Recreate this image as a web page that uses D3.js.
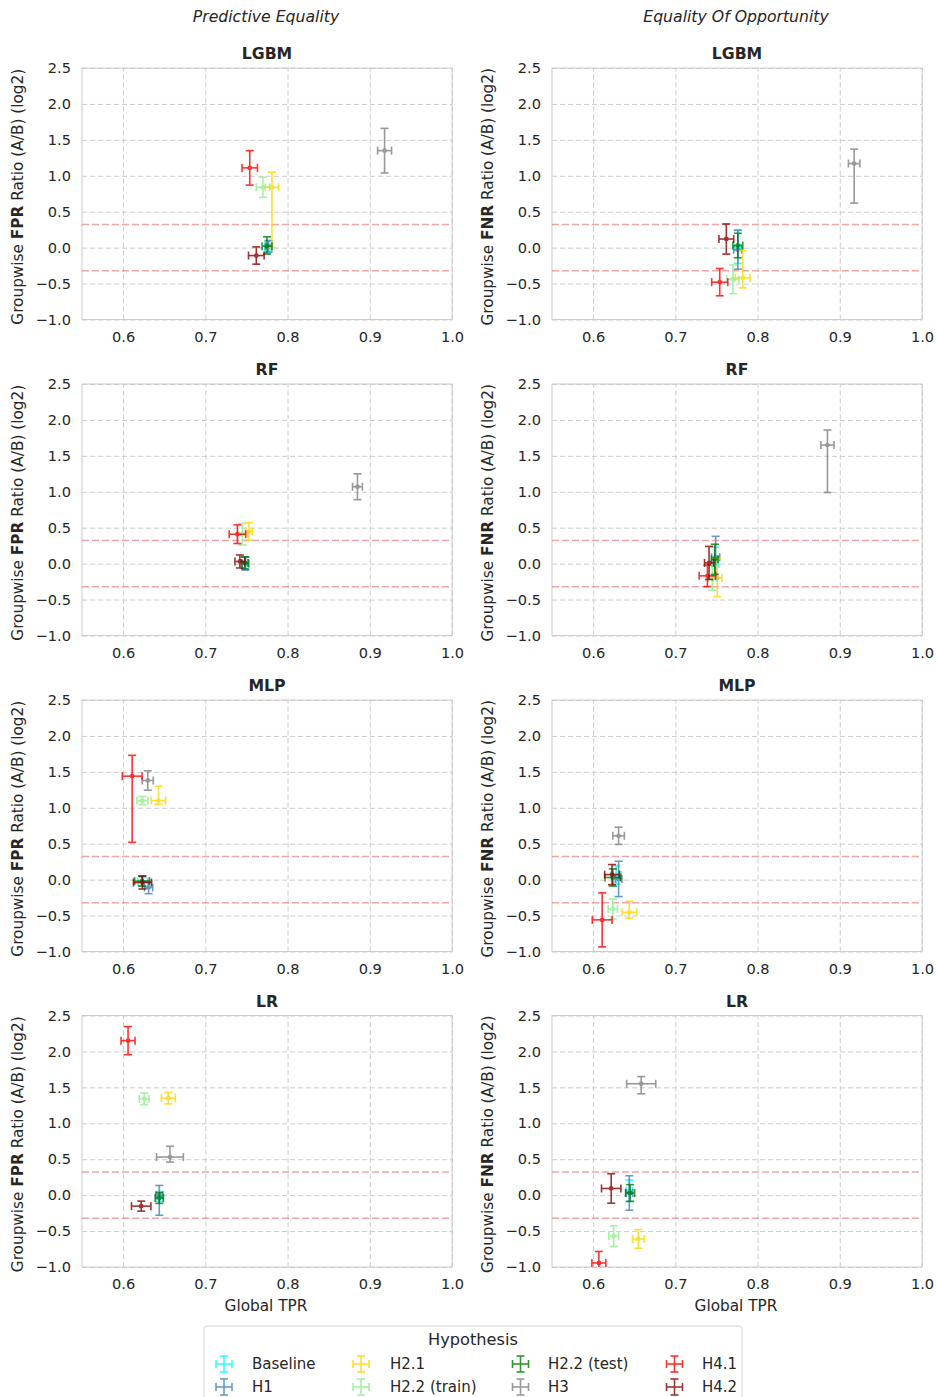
<!DOCTYPE html>
<html>
<head>
<meta charset="utf-8">
<script src="https://cdn.jsdelivr.net/npm/d3@7"></script>
<style>
  body { margin: 0; background: #fff; }
  text { font-family: "DejaVu Sans", sans-serif; fill: #262626; }
</style>
</head>
<body>
<svg id="chart"></svg>
<script>
const hypotheses = ["Baseline", "H1", "H2.1", "H2.2 (train)", "H2.2 (test)", "H3", "H4.1", "H4.2"];
const hypColors = ["#00ffff", "#4682b4", "#ffd700", "#90ee90", "#007a00", "#808080", "#ff0000", "#8b0000"];
const models = ["LGBM", "RF", "MLP", "LR"];
const metrics = ["FPR", "FNR"];
const columnTitles = ["Predictive Equality", "Equality Of Opportunity"];
const xTicks = [0.6, 0.7, 0.8, 0.9, 1.0];
const yTicks = [-1.0, -0.5, 0.0, 0.5, 1.0, 1.5, 2.0, 2.5];
const threshold = Math.log2(1.25);

// one row per hypothesis: [globalTpr, tprErr, ratio, ratioErrLow, ratioErrHigh]
const lgbmFpr = [
    [0.776, 0.004, 0.01, 0.08, 0.08],
    [0.777, 0.004, 0.02, 0.08, 0.08],
    [0.781, 0.008, 0.84, 0.84, 0.21],
    [0.770, 0.008, 0.84, 0.14, 0.14],
    [0.775, 0.006, 0.02, 0.11, 0.13],
    [0.918, 0.0085, 1.35, 0.31, 0.31],
    [0.754, 0.0094, 1.11, 0.24, 0.24],
    [0.762, 0.0095, -0.11, 0.12, 0.12]
];
const lgbmFnr = [
    [0.776, 0.004, 0.00, 0.22, 0.25],
    [0.776, 0.005, -0.03, 0.27, 0.27],
    [0.782, 0.009, -0.42, 0.14, 0.38],
    [0.770, 0.0073, -0.44, 0.20, 0.20],
    [0.776, 0.006, 0.03, 0.17, 0.17],
    [0.9175, 0.007, 1.17, 0.55, 0.20],
    [0.754, 0.0098, -0.48, 0.19, 0.19],
    [0.762, 0.009, 0.12, 0.21, 0.21]
];
const rfFpr = [
    [0.748, 0.004, 0.01, 0.08, 0.08],
    [0.749, 0.004, 0.00, 0.09, 0.09],
    [0.753, 0.004, 0.45, 0.12, 0.12],
    [0.745, 0.006, 0.41, 0.15, 0.15],
    [0.748, 0.004, 0.01, 0.085, 0.085],
    [0.885, 0.006, 1.07, 0.18, 0.18],
    [0.739, 0.010, 0.41, 0.13, 0.13],
    [0.742, 0.006, 0.03, 0.09, 0.09]
];
const rfFnr = [
    [0.748, 0.004, 0.00, 0.22, 0.23],
    [0.749, 0.005, 0.09, 0.29, 0.29],
    [0.751, 0.0055, -0.20, 0.26, 0.27],
    [0.745, 0.005, -0.20, 0.17, 0.17],
    [0.748, 0.004, 0.06, 0.21, 0.21],
    [0.885, 0.008, 1.65, 0.66, 0.21],
    [0.739, 0.010, -0.17, 0.15, 0.15],
    [0.741, 0.0055, 0.01, 0.23, 0.23]
];
const mlpFpr = [
    [0.624, 0.006, -0.03, 0.06, 0.06],
    [0.631, 0.005, -0.11, 0.085, 0.085],
    [0.643, 0.0087, 1.10, 0.05, 0.20],
    [0.6235, 0.0067, 1.10, 0.056, 0.056],
    [0.623, 0.009, -0.02, 0.07, 0.07],
    [0.630, 0.0067, 1.38, 0.135, 0.135],
    [0.611, 0.012, 1.44, 0.92, 0.29],
    [0.6235, 0.011, -0.04, 0.09, 0.09]
];
const mlpFnr = [
    [0.628, 0.006, 0.065, 0.13, 0.13],
    [0.631, 0.004, 0.01, 0.246, 0.246],
    [0.644, 0.0088, -0.455, 0.08, 0.155],
    [0.624, 0.0057, -0.41, 0.14, 0.14],
    [0.624, 0.0095, 0.03, 0.12, 0.12],
    [0.631, 0.007, 0.61, 0.12, 0.12],
    [0.611, 0.012, -0.56, 0.376, 0.376],
    [0.623, 0.009, 0.07, 0.14, 0.14]
];
const lrFpr = [
    [0.6445, 0.004, -0.02, 0.07, 0.07],
    [0.644, 0.004, 0.00, 0.28, 0.135],
    [0.655, 0.0085, 1.35, 0.08, 0.08],
    [0.6256, 0.006, 1.34, 0.08, 0.08],
    [0.644, 0.005, -0.04, 0.075, 0.075],
    [0.657, 0.0163, 0.53, 0.07, 0.15],
    [0.606, 0.0085, 2.15, 0.195, 0.195],
    [0.622, 0.0118, -0.153, 0.07, 0.07]
];
const lrFnr = [
    [0.644, 0.004, 0.06, 0.15, 0.15],
    [0.644, 0.004, 0.03, 0.24, 0.24],
    [0.655, 0.007, -0.61, 0.13, 0.13],
    [0.625, 0.006, -0.57, 0.144, 0.144],
    [0.645, 0.0055, 0.03, 0.116, 0.116],
    [0.6585, 0.0177, 1.55, 0.14, 0.10],
    [0.607, 0.0085, -0.944, 0.16, 0.16],
    [0.622, 0.0118, 0.093, 0.205, 0.205]
];

const panelData = [[lgbmFpr, lgbmFnr], [rfFpr, rfFnr], [mlpFpr, mlpFnr], [lrFpr, lrFnr]];

const W = 937, H = 1397;
const plotW = 370, plotH = 251.5;
const colLeft = [82, 552];
const rowTop = [68, 384, 700, 1015.5];
const cap = 4;

const svg = d3.select("#chart").attr("width", W).attr("height", H);

const x = d3.scaleLinear().domain([0.55, 1.0]).range([0, plotW]);
const y = d3.scaleLinear().domain([-1.0, 2.5]).range([plotH, 0]);

// column titles
columnTitles.forEach((t, c) => {
    svg.append("text")
        .attr("x", colLeft[c] + plotW / 2 - 1)
        .attr("y", 22)
        .attr("text-anchor", "middle")
        .attr("font-size", 15.7)
        .attr("font-style", "italic")
        .text(t);
});

function drawErrorbar(g, d, color) {
    const cx = x(d[0]), cy = y(d[2]);
    const x0 = x(d[0] - d[1]), x1 = x(d[0] + d[1]);
    const y0 = y(d[2] - d[3]), y1 = y(d[2] + d[4]);
    const eg = g.append("g")
        .attr("stroke", color)
        .attr("stroke-width", 1.6)
        .attr("opacity", 0.8);
    eg.append("line").attr("x1", x0).attr("x2", x1).attr("y1", cy).attr("y2", cy);
    eg.append("line").attr("x1", cx).attr("x2", cx).attr("y1", y0).attr("y2", y1);
    [x0, x1].forEach(xx => eg.append("line")
        .attr("x1", xx).attr("x2", xx).attr("y1", cy - cap).attr("y2", cy + cap));
    [y0, y1].forEach(yy => eg.append("line")
        .attr("x1", cx - cap).attr("x2", cx + cap).attr("y1", yy).attr("y2", yy));
    eg.append("circle").attr("cx", cx).attr("cy", cy).attr("r", 2.4)
        .attr("fill", color).attr("stroke", "none");
}

models.forEach((model, r) => {
    metrics.forEach((metric, c) => {
        const g = svg.append("g")
            .attr("transform", `translate(${colLeft[c]},${rowTop[r]})`);
        const clipId = `clip-${r}-${c}`;
        g.append("clipPath").attr("id", clipId)
            .append("rect").attr("width", plotW).attr("height", plotH);

        // grid + tick labels
        const xAxis = g.append("g")
            .attr("transform", `translate(0,${plotH})`)
            .call(d3.axisBottom(x).tickValues(xTicks).tickFormat(d3.format(".1f"))
                .tickSize(-plotH).tickPadding(12));
        const yAxis = g.append("g")
            .call(d3.axisLeft(y).tickValues(yTicks).tickFormat(d3.format(".1f"))
                .tickSize(-plotW).tickPadding(11));
        [xAxis, yAxis].forEach(a => {
            a.select(".domain").remove();
            a.selectAll("line").attr("stroke", "#cccccc").attr("stroke-width", 1)
                .attr("stroke-dasharray", "5,3");
            a.selectAll("text").attr("font-size", 14.6).attr("fill", "#262626")
                .style("font-family", "'DejaVu Sans', sans-serif");
        });

        // frame
        g.append("rect").attr("width", plotW).attr("height", plotH)
            .attr("fill", "none").attr("stroke", "#cccccc").attr("stroke-width", 1);

        // fairness thresholds
        [threshold, -threshold].forEach(t => {
            g.append("line")
                .attr("x1", 0).attr("x2", plotW)
                .attr("y1", y(t)).attr("y2", y(t))
                .attr("stroke", "#dc5050").attr("stroke-opacity", 0.5)
                .attr("stroke-width", 1.6).attr("stroke-dasharray", "7,3");
        });

        // error bars
        const marks = g.append("g").attr("clip-path", `url(#${clipId})`);
        panelData[r][c].forEach((d, i) => drawErrorbar(marks, d, hypColors[i]));

        // title
        g.append("text")
            .attr("x", plotW / 2).attr("y", -9)
            .attr("text-anchor", "middle")
            .attr("font-size", 15.7).attr("font-weight", "bold")
            .text(model);

        // y label
        const yl = g.append("text")
            .attr("transform", `translate(${-59},${plotH / 2 + 3}) rotate(-90)`)
            .attr("text-anchor", "middle")
            .attr("font-size", 15.3);
        yl.append("tspan").text("Groupwise ");
        yl.append("tspan").attr("font-weight", "bold").text(metric);
        yl.append("tspan").text(" Ratio (A/B) (log2)");

        if (r === models.length - 1) {
            g.append("text")
                .attr("x", plotW / 2 - 1).attr("y", plotH + 44)
                .attr("text-anchor", "middle")
                .attr("font-size", 15.3)
                .text("Global TPR");
        }
    });
});

// legend
const legend = svg.append("g").attr("transform", "translate(204,1326)");
legend.append("rect").attr("width", 538).attr("height", 80).attr("rx", 3)
    .attr("fill", "#fff").attr("stroke", "#d6d6d6").attr("stroke-width", 1);
legend.append("text").attr("x", 269).attr("y", 19).attr("text-anchor", "middle")
    .attr("font-size", 16.2).text("Hypothesis");

const legMarkX = [20, 157, 316.5, 470.5];
const legLabelX = [48, 186, 344, 498];
const legRowY = [38, 61];
hypotheses.forEach((h, i) => {
    const col = Math.floor(i / 2), row = i % 2;
    const mx = legMarkX[col], my = legRowY[row];
    const lg = legend.append("g").attr("stroke", hypColors[i]).attr("stroke-width", 1.6)
        .attr("opacity", 0.8);
    lg.append("line").attr("x1", mx - 8).attr("x2", mx + 8).attr("y1", my).attr("y2", my);
    lg.append("line").attr("x1", mx).attr("x2", mx).attr("y1", my - 8).attr("y2", my + 8);
    [-8, 8].forEach(o => {
        lg.append("line").attr("x1", mx + o).attr("x2", mx + o).attr("y1", my - 4).attr("y2", my + 4);
        lg.append("line").attr("x1", mx - 4).attr("x2", mx + 4).attr("y1", my + o).attr("y2", my + o);
    });
    legend.append("text").attr("x", legLabelX[col]).attr("y", my + 5)
        .attr("font-size", 15).text(h);
});
</script>
</body>
</html>
